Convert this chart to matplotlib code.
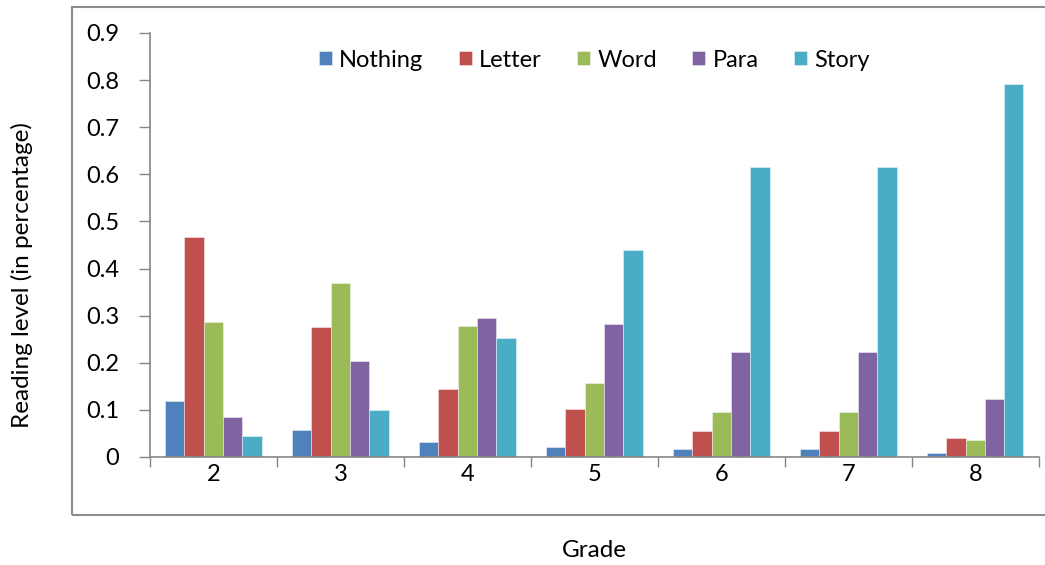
import numpy as np
import matplotlib.pyplot as plt
from matplotlib.patches import Rectangle

plt.rcParams['font.family'] = ['Lato', 'DejaVu Sans']

grades = ['2', '3', '4', '5', '6', '7', '8']
series = ['Nothing', 'Letter', 'Word', 'Para', 'Story']
nothing = [0.118, 0.057, 0.031, 0.022, 0.016, 0.016, 0.008]
letter = [0.467, 0.276, 0.145, 0.101, 0.055, 0.055, 0.041]
word = [0.287, 0.370, 0.279, 0.156, 0.096, 0.096, 0.035]
para = [0.084, 0.203, 0.295, 0.282, 0.222, 0.222, 0.123]
story = [0.044, 0.099, 0.252, 0.440, 0.615, 0.615, 0.792]
colors = ['#4F81BD', '#C0504D', '#9BBB59', '#8064A2', '#4BACC6']

fig = plt.figure(figsize=(10.45, 5.65), dpi=100)
ax = fig.add_axes([0.1435, 0.1912, 0.8505, 0.7504])

# outer chart frame like excel
fig.patches.append(Rectangle((72/1045, 1-515/565), 1.0, (515-7)/565,
                             transform=fig.transFigure, fill=False,
                             edgecolor='#8c8c8c', linewidth=1.5))

x = np.arange(len(grades))
w = 0.152
for i, (name, vals) in enumerate(zip(series, [nothing, letter, word, para, story])):
    ax.bar(x + (i - 2) * w, vals, w, color=colors[i], label=name,
           edgecolor=(1, 1, 1, 0.5), linewidth=0.6, zorder=2)

fs = 17
ax.set_xlim(-0.5, 6.5)
ax.set_ylim(0, 0.9)
ax.set_yticks(np.arange(0, 0.91, 0.1))
ax.set_yticklabels(['0'] + ['%.1f' % v for v in np.arange(0.1, 0.91, 0.1)])
ax.set_xticks(x)
ax.set_xticklabels(grades)
ax.set_xticks(np.arange(-0.5, 7, 1), minor=True)
ax.tick_params(axis='x', which='major', length=0, pad=5, labelsize=fs, colors='black')
ax.tick_params(axis='x', which='minor', length=7, width=1, color='#868686', direction='out')
ax.tick_params(axis='y', length=8, width=1, color='#868686', pad=14, labelsize=fs)

for s in ['top', 'right']:
    ax.spines[s].set_visible(False)
for s in ['left', 'bottom']:
    ax.spines[s].set_color('#868686')
    ax.spines[s].set_linewidth(1.2)

ax.set_ylabel('Reading level (in percentage)', fontsize=17.5)
ax.set_xlabel('Grade', fontsize=17.5)
ax.yaxis.set_label_coords(-0.132, 0.43)
ax.xaxis.set_label_coords(0.5, -0.196)

ax.legend(loc='center', bbox_to_anchor=(0.5, 0.936), ncol=5, frameon=False,
          fontsize=fs, handlelength=0.55, handleheight=0.55, handletextpad=0.3,
          columnspacing=1.5)

fig.savefig('out.png', dpi=100)
